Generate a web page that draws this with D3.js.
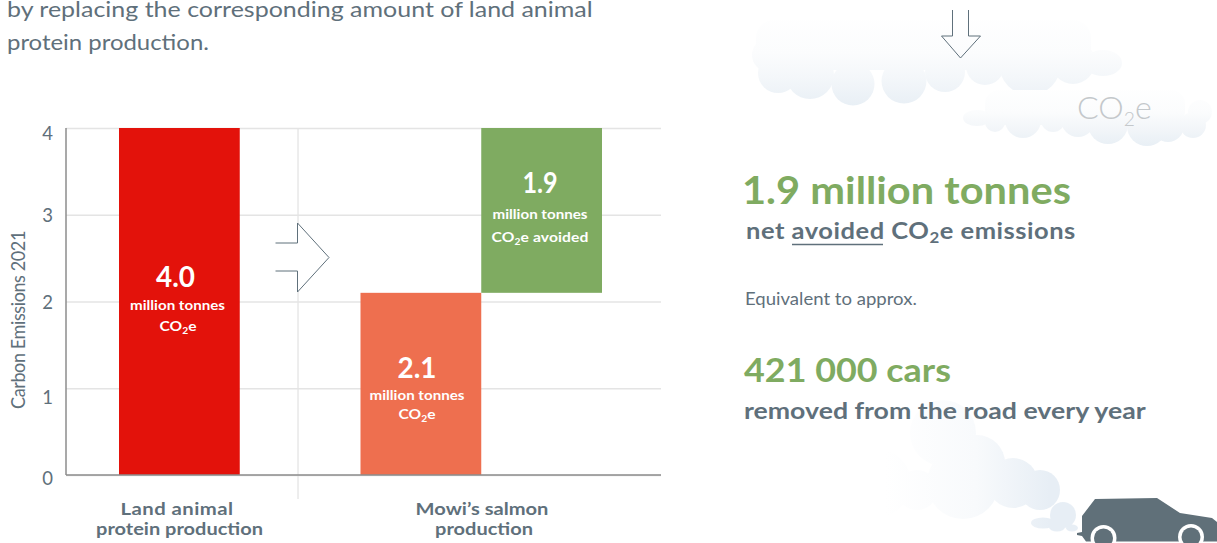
<!DOCTYPE html>
<html lang="en">
<head>
<meta charset="utf-8">
<title>Carbon Emissions 2021</title>
<script src="https://cdn.jsdelivr.net/npm/d3@7/dist/d3.min.js"></script>
<style>
  html, body { margin: 0; padding: 0; background: #fff; overflow: hidden; }
  svg { display: block; }
  text { font-family: Lato, "Open Sans", sans-serif; }
</style>
</head>
<body>
<svg id="chart" width="1217" height="543"></svg>
<script>
// Chart values, in million tonnes CO2e
const slots = ["Land animal", "gap", "Mowi's salmon", "Avoided"];
const barSlots = ["Land animal", "Mowi's salmon", "Avoided"];
const barValues = [4.0, 2.1, 1.9];
const barBases = [0, 0, 2.1];
const barColors = ["#e3120b", "#ee6f4f", "#7fab61"];
const barUnits = [["million tonnes", "CO|2|e"], ["million tonnes", "CO|2|e"], ["million tonnes", "CO|2|e avoided"]];
const yTicks = [0, 1, 2, 3, 4];
const yTickShift = [3, 9, 1, 1, 5];
const categoryLabels = [["Land animal", "protein production"], ["Mowi\u2019s salmon", "production"]];

const INK = "#5f707b", GREEN = "#7fab61";
const svg = d3.select("#chart");
const defs = svg.append("defs");

function gradient(id, x1, y1, x2, y2, stops) {
  const g = defs.append("linearGradient").attr("id", id).attr("gradientUnits", "userSpaceOnUse")
    .attr("x1", x1).attr("y1", y1).attr("x2", x2).attr("y2", y2);
  stops.forEach(s => g.append("stop").attr("offset", s[0]).attr("stop-color", s[1]));
}
gradient("cloudA", 0, 10, 0, 106, [[0, "#ffffff"], [0.45, "#fbfcfd"], [0.7, "#f4f7fa"], [1, "#e8eff5"]]);
gradient("cloudB", 0, 85, 0, 146, [[0, "#ffffff"], [0.45, "#fbfcfd"], [0.7, "#f3f6f9"], [1, "#e8eff5"]]);
gradient("smoke", 885, 0, 1050, 0, [[0, "#ffffff"], [0.55, "#f8fafc"], [1, "#e7eef5"]]);

// Writes a line of text; "|" toggles subscript runs. The line is widened to a target width,
// partly by stretching the glyphs and partly by letter spacing.
function label(parent, x, y, str, o) {
  const t = parent.append("text")
    .attr("font-size", o.size).attr("font-weight", o.weight || 400)
    .attr("fill", o.fill || INK).attr("text-anchor", o.anchor || "start");
  const drop = o.size * (o.subDrop || 0.2);
  str.split("|").forEach((part, i) => {
    const s = t.append("tspan").text(part);
    if (i % 2) s.attr("font-size", o.size * (o.subScale || 0.66)).attr("dy", drop);
    else if (i) s.attr("dy", -drop);
  });
  let sx = 1;
  if (o.width) {
    const n = str.replace(/\|/g, "").length;
    const natural = t.node().getComputedTextLength();
    sx = Math.max(0.9, Math.min(1.16, o.width / natural));
    t.attr("letter-spacing", (o.width / sx - natural) / n);
  }
  t.attr("transform", `translate(${x},${y})${o.rotate ? ` rotate(${o.rotate})` : ""} scale(${sx},1)`);
  return t;
}

// Background: clouds and exhaust smoke built from overlapping blobs under one shared gradient
function blobs(fill, rects, circles) {
  const g = svg.append("g").attr("fill", fill);
  rects.forEach(r => g.append("rect").attr("x", r[0]).attr("y", r[1]).attr("width", r[2]).attr("height", r[3]).attr("rx", r[4] || 0));
  circles.forEach(c => g.append("ellipse").attr("cx", c[0]).attr("cy", c[1]).attr("rx", c[2]).attr("ry", c[3] || c[2]));
}
blobs("url(#cloudA)", [[756, 20, 335, 50, 18]], [
  [769, 55, 17], [778, 73, 20], [810, 75, 24], [853, 84, 21.5], [904, 81, 22.5], [945, 72, 20],
  [985, 66, 19], [1030, 64, 31], [1073, 62, 22], [1103, 63, 19, 13]
]);
blobs("url(#cloudB)", [[985, 90, 200, 35, 14]], [
  [977, 118, 14, 8], [995, 122, 10], [1023, 120, 18], [1053, 120, 12], [1078, 120, 17], [1108, 124, 20],
  [1147, 126, 20], [1168, 126, 16], [1193, 125, 13], [1200, 112, 12]
]);
blobs("url(#smoke)", [], [
  [943, 433, 33], [963, 483, 36], [977, 463, 28], [1013, 483, 25], [1040, 490, 20], [1063, 515, 13],
  [1043, 523, 12, 5.5], [1057, 527, 8, 4.5], [1072, 528, 6, 3.5], [917, 490, 20], [877, 483, 34]
]);

// Scales and axes
const margin = { left: 66, right: 661, top: 128, bottom: 475 };
const x = d3.scaleBand().domain(slots).range([119, 602]);
const y = d3.scaleLinear().domain([0, 4]).range([margin.bottom, margin.top]);

svg.append("line").attr("x1", 298).attr("x2", 298).attr("y1", margin.top).attr("y2", 499)
  .attr("stroke", "#dcdcdc").attr("stroke-width", 1);

const yAxis = svg.append("g").attr("transform", `translate(${margin.left},0)`)
  .call(d3.axisLeft(y).tickValues(yTicks).tickFormat(d3.format("d")).tickSize(-(margin.right - margin.left)).tickPadding(14));
yAxis.select(".domain").remove();
yAxis.selectAll(".tick line").attr("stroke", "#e4e4e4").attr("stroke-width", 1.3);
yAxis.selectAll(".tick text").attr("font-size", 18.5).attr("font-family", "Lato").attr("fill", INK)
  .attr("text-anchor", "middle").attr("x", -18.5).attr("dy", (d, i) => `${yTickShift[i] + 6}px`);

// Bars
svg.append("g").selectAll("rect").data(barSlots).join("rect")
  .attr("x", d => x(d)).attr("width", x.bandwidth())
  .attr("y", (d, i) => y(barBases[i] + barValues[i]))
  .attr("height", (d, i) => y(barBases[i]) - y(barBases[i] + barValues[i]))
  .attr("fill", (d, i) => barColors[i]);

// Axis lines sit on top of the grid and bar feet
svg.append("line").attr("x1", margin.left).attr("x2", margin.left).attr("y1", margin.top).attr("y2", margin.bottom)
  .attr("stroke", "#8c8c8c").attr("stroke-width", 1.5);
svg.append("line").attr("x1", margin.left).attr("x2", margin.right).attr("y1", margin.bottom).attr("y2", margin.bottom)
  .attr("stroke", "#8c8c8c").attr("stroke-width", 1.5);

// Value labels inside the bars
const valueFmt = d3.format(".1f");
const labelRows = [
  { cx: 175.5, rows: [287, 310, 331], widths: [39, 95, 37] },
  { cx: 417, rows: [378, 400, 419], widths: [39, 95, 37] },
  { cx: 540, rows: [193, 219, 242], widths: [35, 95, 97] }
];
barSlots.forEach((d, i) => {
  const r = labelRows[i], o = { fill: "#fff", anchor: "middle" };
  label(svg, r.cx, r.rows[0], valueFmt(barValues[i]), { ...o, size: 28, weight: 700, width: r.widths[0] });
  label(svg, r.cx + (i ? 0 : 2), r.rows[1], barUnits[i][0], { ...o, size: 13.5, weight: 700, width: r.widths[1] });
  label(svg, r.cx + (i ? 0 : 2.5), r.rows[2], barUnits[i][1], { ...o, size: 13.5, weight: 700, width: r.widths[2] });
});

// Category labels and axis title
[[177, 121], [482, 133]].forEach((c, i) => {
  label(svg, c[0], 515, categoryLabels[i][0], { size: 17.5, weight: 700, anchor: "middle", width: i ? 133 : 113 });
  label(svg, i ? 484 : 179.5, 535, categoryLabels[i][1], { size: 17.5, weight: 700, anchor: "middle", width: i ? 98 : 167 });
});
label(svg, 24.5, 320, "Carbon Emissions 2021", { size: 20, anchor: "middle", width: 178, rotate: -90 });

// Outlined arrows
const outline = d3.line();
svg.append("path").attr("fill", "#fff").attr("stroke", INK).attr("stroke-width", 1)
  .attr("d", outline([[275.5, 243], [297.5, 243], [297.5, 223], [329, 257.5], [297.5, 292], [297.5, 271], [275.5, 271]]));
svg.append("path").attr("fill", "none").attr("stroke", INK).attr("stroke-width", 1)
  .attr("d", outline([[952.5, 10], [952.5, 36], [941.5, 36], [960.5, 58], [980.5, 36], [968.5, 36], [968.5, 10]]));

// Intro copy
label(svg, 7, 17, "by replacing the corresponding amount of land animal", { size: 22, width: 586 });
label(svg, 7, 49.5, "protein production.", { size: 22, width: 202 });

// Key figures on the right
label(svg, 1077, 119, "CO|2|e", { size: 31, fill: "#c4c8cb", width: 75, subScale: 0.6, subDrop: 0.24 }).style("font-weight", 300);
label(svg, 742, 204, "1.9 million tonnes", { size: 39, weight: 700, fill: GREEN, width: 329 });
label(svg, 746, 239, "net avoided CO|2|e emissions", { size: 22, weight: 700, width: 330 });
svg.append("line").attr("x1", 792).attr("x2", 883).attr("y1", 244.5).attr("y2", 244.5).attr("stroke", INK).attr("stroke-width", 1.5);
label(svg, 745, 305, "Equivalent to approx.", { size: 16.5, width: 172 });
label(svg, 744, 382, "421 000 cars", { size: 33, weight: 700, fill: GREEN, width: 207 });
label(svg, 744, 419, "removed from the road every year", { size: 23, weight: 700, width: 402 });

// Car silhouette
const car = svg.append("g");
car.append("path").attr("fill", "#607079").attr("d",
  "M1077,533 L1082,532 L1082,516 L1095,499 L1157,498 L1180,513 L1212,518 L1217,522 L1217,541.5 L1086,541.5 L1082,536 L1077,535 Z");
[[1103.5, 538], [1191, 537]].forEach(w => {
  car.append("circle").attr("cx", w[0]).attr("cy", w[1]).attr("r", 13).attr("fill", "#fff");
  car.append("circle").attr("cx", w[0]).attr("cy", w[1]).attr("r", 9.5).attr("fill", "#607079");
});
</script>
</body>
</html>
